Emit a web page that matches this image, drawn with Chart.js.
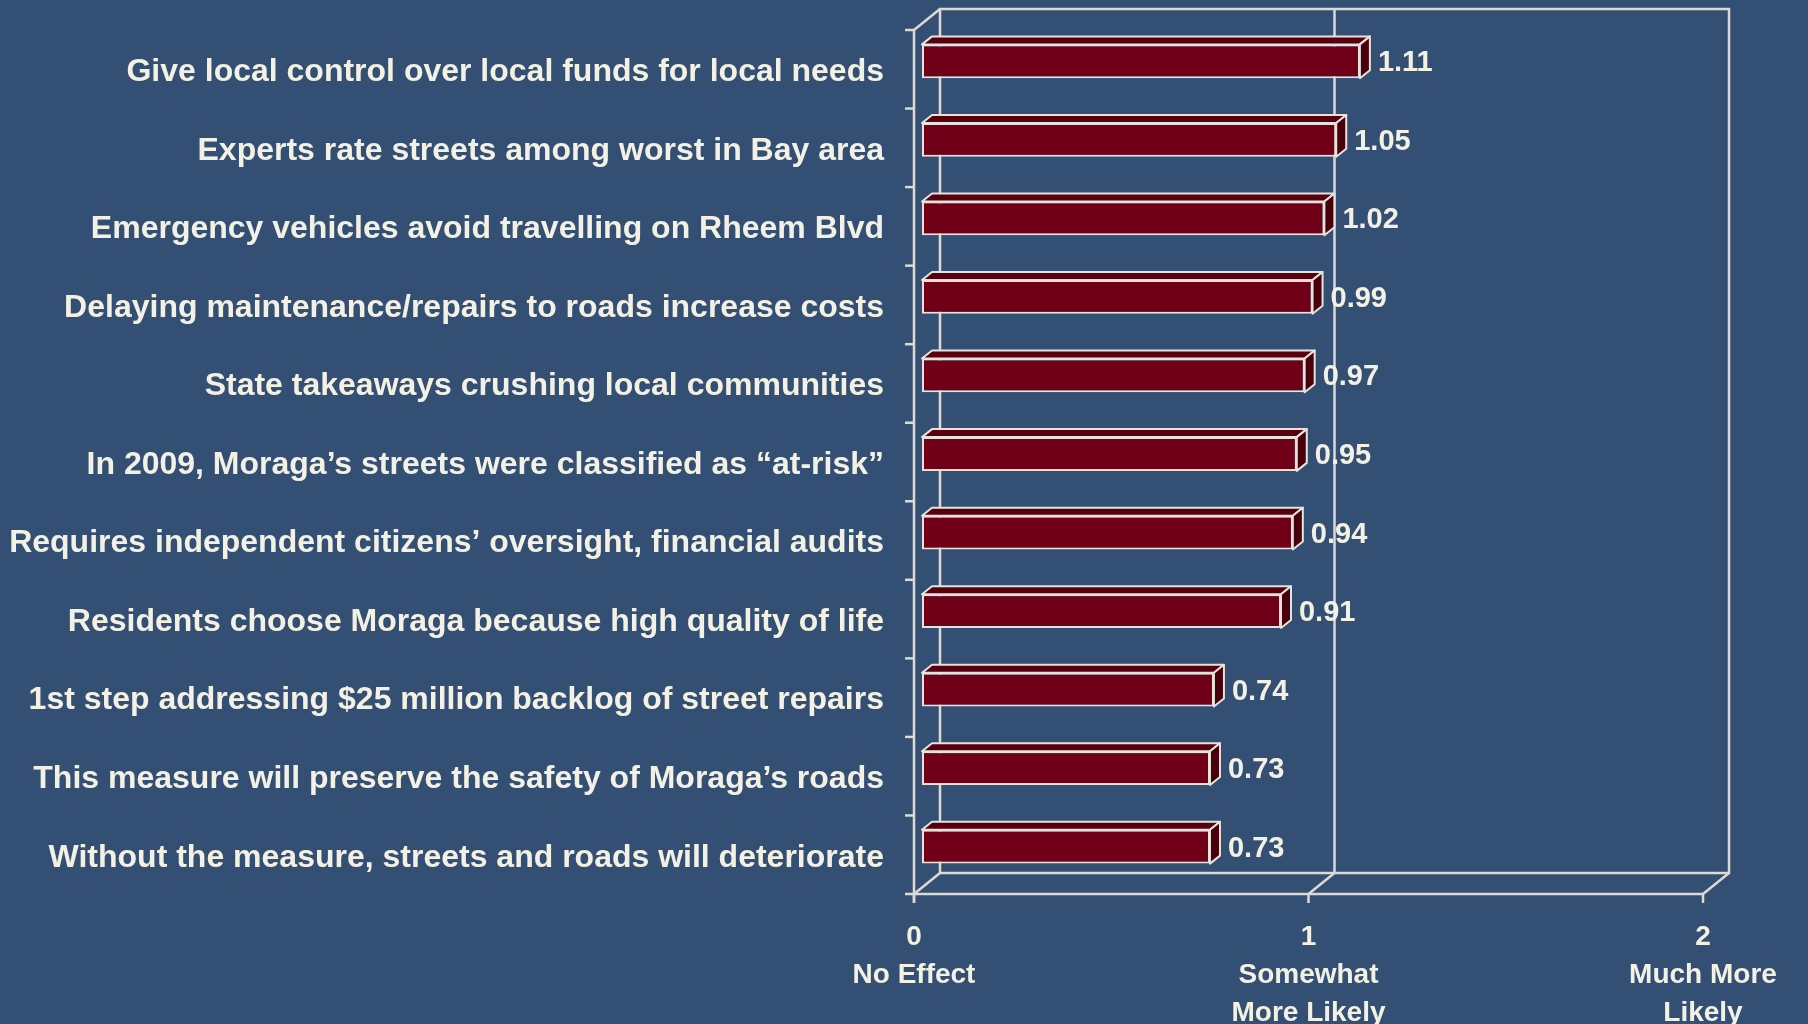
<!DOCTYPE html>
<html>
<head>
<meta charset="utf-8">
<script src="https://cdn.jsdelivr.net/npm/chart.js@4/dist/chart.umd.min.js"></script>
<style>
  html, body { margin: 0; padding: 0; background: #344f74; }
  canvas { display: block; }
</style>
</head>
<body>
<canvas id="c" width="1808" height="1024"></canvas>
<script>
const statements = [
  'Give local control over local funds for local needs',
  'Experts rate streets among worst in Bay area',
  'Emergency vehicles avoid travelling on Rheem Blvd',
  'Delaying maintenance/repairs to roads increase costs',
  'State takeaways crushing local communities',
  'In 2009, Moraga\u2019s streets were classified as \u201cat-risk\u201d',
  'Requires independent citizens\u2019 oversight, financial audits',
  'Residents choose Moraga because high quality of life',
  '1st step addressing $25 million backlog of street repairs',
  'This measure will preserve the safety of Moraga\u2019s roads',
  'Without the measure, streets and roads will deteriorate'
];
const scores = [1.11, 1.05, 1.02, 0.99, 0.97, 0.95, 0.94, 0.91, 0.74, 0.73, 0.73];
const tickValues = ['0', '1', '2'];
const tickNames = [['No Effect'], ['Somewhat', 'More Likely'], ['Much More', 'Likely']];

const TEXT = '#f3f1e4';
const LINE = '#dcdad2';
const DEPTH = { x: 26, y: -21 };   // back wall offset
const BAR_SHIFT = { x: 8, y: -8 }; // bar front face offset
const BAR_DEPTH = { x: 10, y: -8 };

Chart.defaults.font.family = "'Liberation Sans', Arial, sans-serif";
Chart.defaults.font.weight = 'bold';
Chart.defaults.color = TEXT;

const frame3d = {
  id: 'frame3d',
  beforeDatasetsDraw(chart) {
    const { ctx, chartArea: a, scales: { x, y } } = chart;
    ctx.save();
    ctx.strokeStyle = LINE;
    ctx.lineWidth = 2.5;
    const line = (x1, y1, x2, y2) => {
      ctx.beginPath(); ctx.moveTo(x1, y1); ctx.lineTo(x2, y2); ctx.stroke();
    };
    // back wall
    ctx.strokeRect(a.left + DEPTH.x, a.top + DEPTH.y, a.right - a.left, a.bottom - a.top);
    // gridline at 1 on back wall
    const g1 = x.getPixelForValue(1) + DEPTH.x;
    line(g1, a.top + DEPTH.y, g1, a.bottom + DEPTH.y);
    // front left axis + top diagonal
    line(a.left, a.top, a.left, a.bottom + 9);
    line(a.left, a.top, a.left + DEPTH.x, a.top + DEPTH.y);
    // floor front edge
    line(a.left - 9, a.bottom, a.right, a.bottom);
    // floor diagonals and bottom ticks
    [0, 1, 2].forEach(v => {
      const px = x.getPixelForValue(v);
      line(px, a.bottom, px + DEPTH.x, a.bottom + DEPTH.y);
      line(px, a.bottom, px, a.bottom + 9);
    });
    // category boundary ticks
    const step = (a.bottom - a.top) / statements.length;
    for (let k = 0; k < statements.length; k++) {
      const yy = a.top + k * step;
      line(a.left - 9, yy, a.left, yy);
    }
    ctx.restore();
    ctx.save();
    ctx.translate(BAR_SHIFT.x, BAR_SHIFT.y);
  },
  afterDatasetsDraw(chart) {
    const { ctx } = chart;
    const meta = chart.getDatasetMeta(0);
    ctx.lineWidth = 2;
    ctx.strokeStyle = '#e6e3dc';
    ctx.lineJoin = 'round';
    meta.data.forEach(bar => {
      const { x, y, base, height } = bar.getProps(['x', 'y', 'base', 'height'], true);
      const top = y - height / 2, bottom = y + height / 2;
      const dx = BAR_DEPTH.x, dy = BAR_DEPTH.y;
      ctx.fillStyle = '#58000f';
      ctx.beginPath();
      ctx.moveTo(base, top); ctx.lineTo(base + dx, top + dy);
      ctx.lineTo(x + dx, top + dy); ctx.lineTo(x, top); ctx.closePath();
      ctx.fill(); ctx.stroke();
      ctx.fillStyle = '#48000c';
      ctx.beginPath();
      ctx.moveTo(x, top); ctx.lineTo(x + dx, top + dy);
      ctx.lineTo(x + dx, bottom + dy); ctx.lineTo(x, bottom); ctx.closePath();
      ctx.fill(); ctx.stroke();
    });
    ctx.restore();
    // value labels
    ctx.save();
    ctx.fillStyle = TEXT;
    ctx.font = "bold 29px 'Liberation Sans', Arial, sans-serif";
    ctx.textAlign = 'left';
    ctx.textBaseline = 'middle';
    meta.data.forEach((bar, i) => {
      ctx.fillText(scores[i].toFixed(2),
        bar.x + BAR_SHIFT.x + BAR_DEPTH.x + 8,
        bar.y + BAR_SHIFT.y + 2);
    });
    ctx.restore();
  }
};

new Chart(document.getElementById('c'), {
  type: 'bar',
  data: {
    labels: statements,
    datasets: [{
      data: scores,
      backgroundColor: '#6f0018',
      borderColor: '#e6e3dc',
      borderWidth: 2,
      borderSkipped: false,
      barPercentage: 0.43,
      categoryPercentage: 1.0,
      clip: false
    }]
  },
  options: {
    indexAxis: 'y',
    responsive: false,
    devicePixelRatio: 1,
    animation: false,
    layout: { padding: { top: 30, right: 105, left: 0, bottom: 0 } },
    plugins: { legend: { display: false }, tooltip: { enabled: false } },
    scales: {
      x: {
        min: 0,
        max: 2,
        grid: { display: false, drawTicks: false },
        border: { display: false },
        ticks: {
          stepSize: 1,
          padding: 24,
          maxRotation: 0,
          font: { size: 28, weight: 'bold', lineHeight: '38px' },
          color: TEXT,
          callback: (v, i) => [tickValues[i]].concat(tickNames[i])
        },
        afterFit: s => { s.height = 130; s.paddingLeft = 0; s.paddingRight = 0; }
      },
      y: {
        grid: { display: false, drawTicks: false },
        border: { display: false },
        ticks: {
          padding: 30,
          labelOffset: 3,
          font: { size: 32, weight: 'bold' },
          color: TEXT
        },
        afterFit: s => { s.width = 914; s.paddingTop = 0; s.paddingBottom = 0; }
      }
    }
  },
  plugins: [frame3d]
});
</script>
</body>
</html>
